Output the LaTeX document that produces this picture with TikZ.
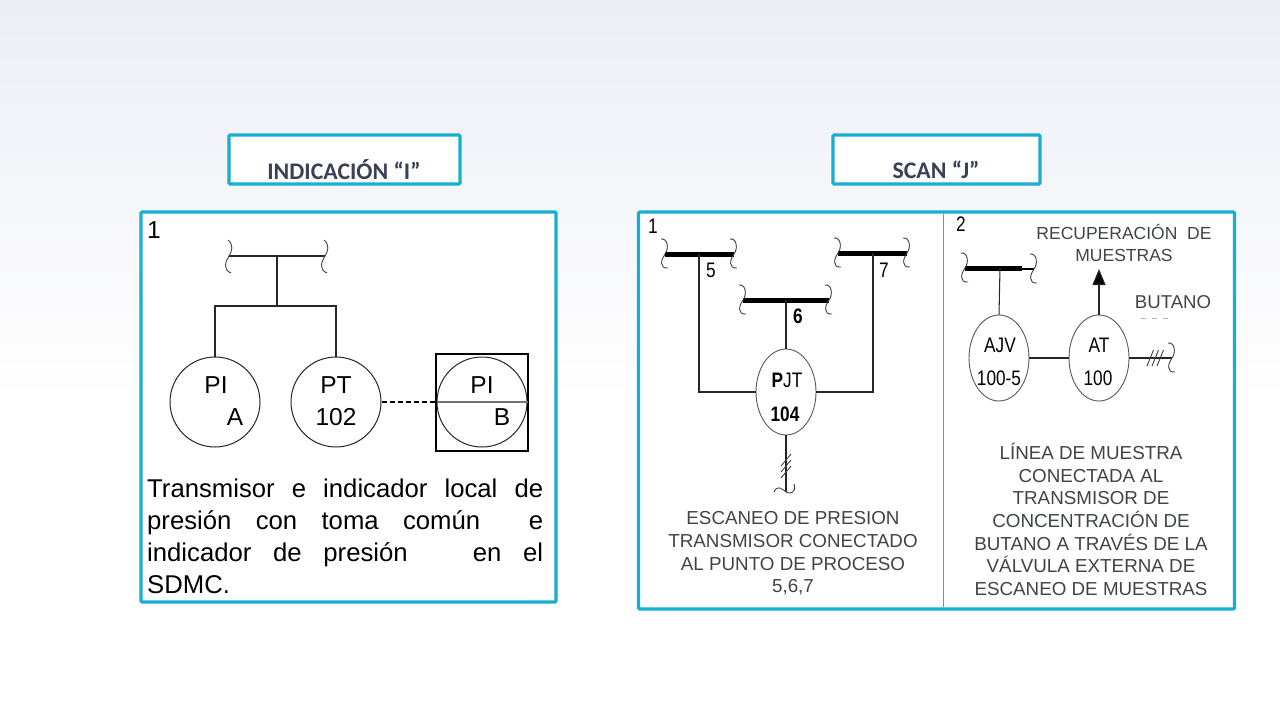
\documentclass[tikz,border=0pt]{standalone}
\usepackage{fontspec}
\setmainfont{Liberation Sans}
\newfontfamily\headfont{Carlito}
\usetikzlibrary{arrows.meta,calc,shapes.geometric}
\definecolor{frameblue}{HTML}{17AED2}
\definecolor{headtxt}{HTML}{3B4154}
\definecolor{captxt}{HTML}{404348}
\definecolor{bgtop}{HTML}{ECEEF5}
\tikzset{
  x=1pt,y=-1pt,
  panel/.style={draw=frameblue,line width=3.1pt,fill=white,rounded corners=1pt},
  headbox/.style={panel,minimum height=49pt,inner sep=0pt},
  headlab/.style={font=\headfont\bfseries\fontsize{23.8}{23.8}\selectfont,text=headtxt,inner sep=0pt},
  wire/.style={draw=black!85,line width=1.05pt},
  bar/.style={draw=black,line width=5pt},
  inst/.style={circle,draw=black!85,line width=1pt,minimum size=90pt,inner sep=0pt},
  oval/.style={ellipse,draw=black!65,line width=.9pt,minimum width=60pt,minimum height=86pt,inner sep=0pt},
  lab/.style={font=\fontsize{24.5}{24.5}\selectfont,inner sep=0pt,text=black},
  nlab/.style={font=\fontsize{21}{21}\selectfont,inner sep=0pt,xscale=.82,text=black},
  captext/.style={align=center,text=captxt,inner sep=0pt,font=\fontsize{18.8}{22.6}\selectfont},
  toplab/.style={text=captxt,inner sep=0pt,font=\fontsize{17.5}{22}\selectfont,align=center},
  thin wave/.style={draw=black!75,line width=.9pt},
  squig/.pic={\draw[thin wave] (-1,-16) .. controls (5,-11) and (3,-5) .. (0,0) .. controls (-4,6) and (-6,14) .. (2,17);},
  curl/.pic={\draw[thin wave] (-4,-15) .. controls (3,-16) and (4,-5) .. (0,0) .. controls (-4,5) and (-6,15) .. (3,14);},
}
\begin{document}
\begin{tikzpicture}
\useasboundingbox (0,0) rectangle (1280,720);
\fill[white] (0,0) rectangle (1280,720);
\shade[top color=bgtop,bottom color=white] (0,0) rectangle (1280,400);
% headers
\node[headbox,minimum width=231pt] (h1) at (344.5,159.5) {};
\node[headlab] (h1t) at (344,169.5) {INDICACIÓN “I”};
\node[headbox,minimum width=207pt] (h2) at (936.5,159.5) {};
\node[headlab] (h2t) at (936,169.5) {SCAN “J”};
% panels
\draw[panel] (141,212) rectangle (556,602);
\draw[panel] (638.5,212) rectangle (1234.5,609);
\draw[draw=black!45,line width=1pt] (943,214) -- (943,607);
% left panel
\node[lab] (n1) at (154,230) {1};
\coordinate (busL) at (229,256);
\coordinate (busR) at (325,256);
\coordinate (busM) at (277,256);
\coordinate (tee) at (277,306);
\node[inst] (pia) at (215,402) {};
\node[inst] (pt) at (336,402) {};
\node[inst] (pib) at (482,402) {};
\node[draw=black,line width=1.3pt,minimum width=92pt,minimum height=97pt,inner sep=0pt] (sq) at (482,402.5) {};
\draw[wire] (busL) -- (busR);
\draw[wire] (busM) -- (tee);
\draw[wire] (pia.north) |- (tee) -| (pt.north);
\draw[draw=black,line width=1.1pt,dash pattern=on 5pt off 3pt] (pt.east) -- (pib.west);
\draw[draw=black!55,line width=1.2pt] (pib.west) -- (pib.east);
\pic at (busL) {squig};
\pic at (busR) {squig};
\node[lab] (t1) at (216,385) {PI};
\node[lab] (t2) at (235,417) {A};
\node[lab] (t3) at (336,385) {PT};
\node[lab] (t4) at (336,417) {102};
\node[lab] (t5) at (482,385) {PI};
\node[lab] (t6) at (502,417) {B};
\node[text width=396pt,align=justify,inner sep=0pt,anchor=north west,text=black,font=\fontsize{25.7}{32}\selectfont] (desc) at (147,479)
 {Transmisor e indicador local de\linebreak presión con toma común \ e\linebreak indicador de presión \ \ en el\linebreak SDMC.};
% right panel 1
\node[nlab] (r1) at (653,226) {1};
\coordinate (b5l) at (665,254); \coordinate (b5r) at (734,254); \coordinate (b5m) at (699,254);
\coordinate (b7l) at (838,253); \coordinate (b7r) at (907,253); \coordinate (b7m) at (873,253);
\coordinate (b6l) at (743,300); \coordinate (b6r) at (829,300); \coordinate (b6m) at (786,300);
\node[oval] (pjt) at (786,392) {};
\draw[bar] (b5l) -- (b5r);
\draw[bar] (b7l) -- (b7r);
\draw[bar] (b6l) -- (b6r);
\draw[wire] (b5m) |- (pjt.west);
\draw[wire] (b7m) |- (pjt.east);
\draw[wire] (b6m) -- (pjt.north);
\coordinate (pend) at (786,492);
\draw[wire] (pjt.south) -- (pend);
\foreach \yy in {460,466,472} \draw[thin wave] (781,\yy+6) -- (791,\yy-6);
\draw[thin wave] (774,492) .. controls (777,485) and (781,488) .. (786,492) .. controls (790,495) and (797,492) .. (794,484);
\pic at (b5l) {curl}; \pic at (b5r) {curl};
\pic at (b7l) {curl}; \pic at (b7r) {curl};
\pic at (b6l) {curl}; \pic at (b6r) {curl};
\node[nlab] (r5) at (711,270) {5};
\node[nlab] (r7) at (884,270) {7};
\node[nlab] (r6) at (798,316) {\bfseries 6};
\node[nlab] (r8) at (787,380) {\textbf{P}JT};
\node[nlab] (r9) at (785,414) {\textbf{104}};
\node[captext] (c1) at (793,553.5) {ESCANEO DE PRESION\\TRANSMISOR CONECTADO\\AL PUNTO DE PROCESO\\5,6,7};
% right panel 2
\node[nlab] (s2) at (961,224) {2};
\coordinate (cl) at (965,268); \coordinate (cm) at (1022,268); \coordinate (cr) at (1034,269); \coordinate (cv) at (1000,268);
\node[oval] (ajv) at (999,358) {};
\node[oval] (at) at (1099,358) {};
\draw[bar] (cl) -- (cm);
\draw[draw=black,line width=2.5pt] (1022,269.2) -- (1034,269.2);
\draw[wire] (cv) -- (ajv.north);
\draw[wire] (ajv.east) -- (at.west);
\coordinate (up) at (1099,269);
\draw[wire,-{Triangle[length=16pt,width=13pt,fill=black]}] (at.north) -- (up);
\coordinate (rend) at (1172,358);
\draw[wire] (at.east) -- (rend);
\foreach \xx in {1150,1155,1160} \draw[thin wave] (\xx-3,366) -- (\xx+3.5,350);
\pic at (cl) {curl};
\pic at (cr) {curl};
\pic at (rend) {curl};
\node[nlab] (a1) at (1000,345) {AJV};
\node[nlab] (a2) at (999,378) {100-5};
\node[nlab] (a3) at (1099,345) {AT};
\node[nlab] (a4) at (1098,378) {100};
\node[toplab] (c2) at (1124,243) {RECUPERACIÓN\ \ DE\\MUESTRAS};
\node[toplab,font=\fontsize{18.6}{22}\selectfont] (c3) at (1173,302) {BUTANO};
\draw[draw=black!30,line width=.8pt,dash pattern=on 5pt off 6pt] (1141,318.5) -- (1173,318.5);
\node[captext] (c4) at (1091,519.5) {LÍNEA DE MUESTRA\\CONECTADA AL\\TRANSMISOR DE\\CONCENTRACIÓN DE\\BUTANO A TRAVÉS DE LA\\VÁLVULA EXTERNA DE\\ESCANEO DE MUESTRAS};
\end{tikzpicture}
\end{document}
